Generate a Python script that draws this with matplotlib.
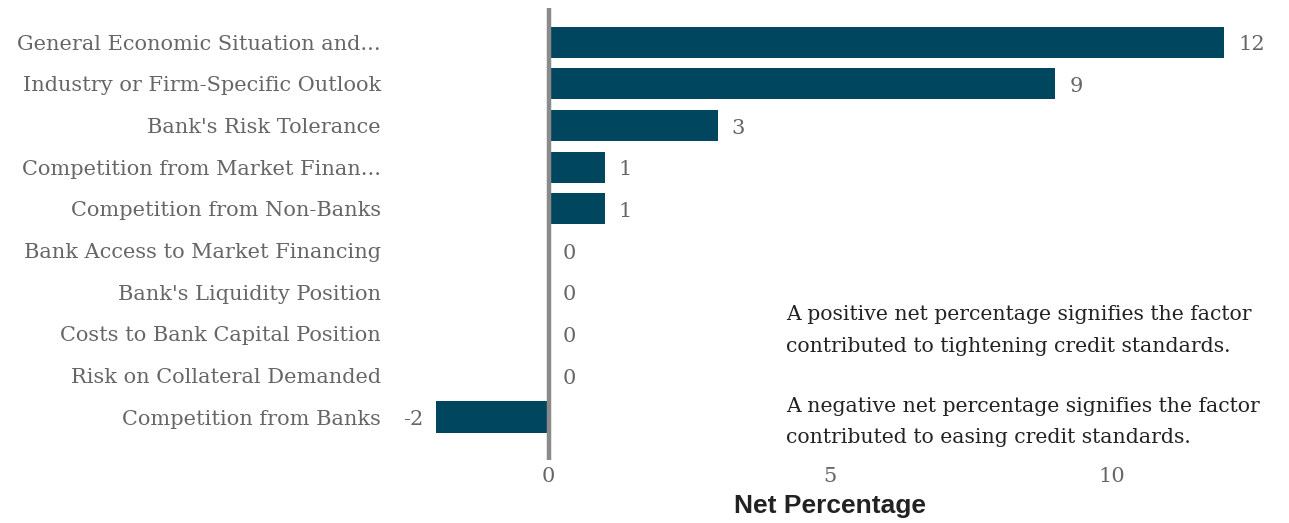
# Net percentage of banks reporting each factor behind credit standard changes

import matplotlib
matplotlib.use("Agg")
from matplotlib import pyplot as plt

factors = [
    "General Economic Situation and...",
    "Industry or Firm-Specific Outlook",
    "Bank's Risk Tolerance",
    "Competition from Market Finan...",
    "Competition from Non-Banks",
    "Bank Access to Market Financing",
    "Bank's Liquidity Position",
    "Costs to Bank Capital Position",
    "Risk on Collateral Demanded",
    "Competition from Banks",
]
net_pct = [12, 9, 3, 1, 1, 0, 0, 0, 0, -2]
x_ticks = [0, 5, 10]

bar_color = "#00465e"
grey_txt = "#666666"
serif = "DejaVu Serif"

fig = plt.figure(figsize=(12.89, 5.23), dpi=100)
ax = fig.add_axes([394 / 1289, 63 / 523, 892 / 1289, 452 / 523])

y = list(range(len(factors)))
ax.barh(y, net_pct, height=0.75, color=bar_color, zorder=2)

# dikke grijze nullijn
ax.axvline(0, color="#8a8a8a", linewidth=3.2, zorder=3, solid_capstyle="round")

for yi, v in zip(y, net_pct):
    if v < 0:
        ax.annotate(str(v), (v, yi), xytext=(-9, -2), textcoords="offset points",
                    ha="right", va="center", fontsize=15, color=grey_txt, family=serif)
    else:
        ax.annotate(str(v), (v, yi), xytext=(10, -2), textcoords="offset points",
                    ha="left", va="center", fontsize=15, color=grey_txt, family=serif)

ax.set_xlim(-2.75, 13.1)
ax.set_ylim(len(factors) - 1 + 1.03, -0.82)

ax.set_yticks(y)
ax.set_yticklabels(factors, fontsize=15, color=grey_txt, family=serif)
ax.set_xticks(x_ticks)
ax.set_xticklabels([str(t) for t in x_ticks], fontsize=15, color=grey_txt, family=serif)
ax.tick_params(axis="both", length=0)
ax.tick_params(axis="x", pad=5)
ax.tick_params(axis="y", pad=9.5)

for s in ax.spines.values():
    s.set_visible(False)

ax.set_xlabel("Net Percentage", fontsize=19, fontweight="bold", color="#222222",
              family="Liberation Sans")
ax.xaxis.set_label_coords((5 + 2.75) / 15.85, -0.075)

# uitleg over positieve en negatieve waarden
note_pos = ("A positive net percentage signifies the factor\n"
            "contributed to tightening credit standards.")
note_neg = ("A negative net percentage signifies the factor\n"
            "contributed to easing credit standards.")
fig.text(786 / 1289, 1 - 322.5 / 523, note_pos, fontsize=14.7, color="#222222", family=serif,
         va="center_baseline", ha="left", linespacing=1.83)
fig.text(786 / 1289, 1 - 413.5 / 523, note_neg, fontsize=14.7, color="#222222", family=serif,
         va="center_baseline", ha="left", linespacing=1.83)

fig.savefig("out.png", dpi=100)
